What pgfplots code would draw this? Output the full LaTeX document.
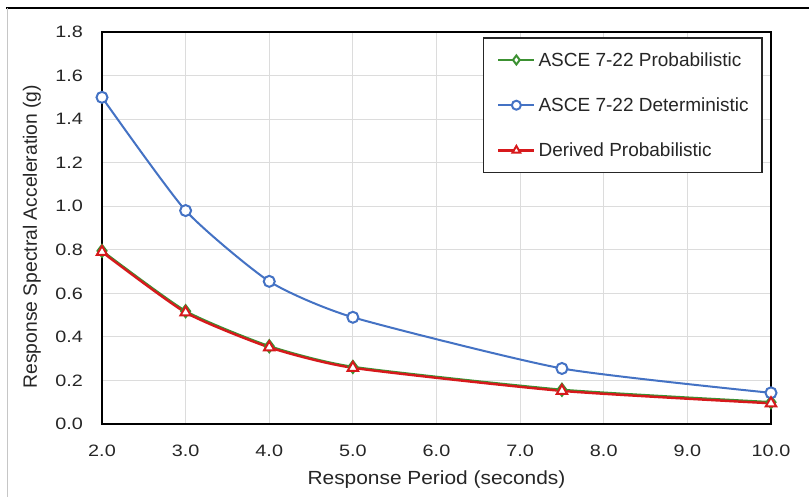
\documentclass[border=0pt]{standalone}
\usepackage{fontspec}
\setmainfont{Liberation Sans}
\newfontfamily\tickfont[FakeStretch=1.2]{Liberation Sans}
\newfontfamily\xlabfont[FakeStretch=1.1]{Liberation Sans}
\usepackage{pgfplots}
\pgfplotsset{compat=1.18}
\definecolor{cblue}{RGB}{68,114,196}
\definecolor{cred}{RGB}{215,25,28}
\definecolor{cgreen}{RGB}{60,145,50}
\definecolor{cgrid}{RGB}{220,220,220}
\begin{document}
\begin{tikzpicture}[x=1pt,y=1pt]
\useasboundingbox (0,0) rectangle (809,497);
\fill[white] (0,0) rectangle (809,497);
\draw[black, line width=2.7pt] (6,489) -- (809,489);
\draw[gray!45, line width=1pt] (7,489) -- (7,0);
\begin{axis}[
  at={(102pt,73pt)}, anchor=south west,
  scale only axis, width=669pt, height=392pt,
  xmin=2, xmax=10, ymin=0, ymax=1.8,
  xtick={2,3,4,5,6,7,8,9,10},
  ytick={0,0.2,0.4,0.6,0.8,1.0,1.2,1.4,1.6,1.8},
  grid=major,
  major grid style={cgrid, line width=1.2pt},
  axis line style={black, line width=1.8pt},
  major tick length=0pt,
  /pgf/number format/assume math mode=true,
  tick label style={font=\fontsize{16.5}{19}\tickfont, text=black!85,
    /pgf/number format/fixed, /pgf/number format/fixed zerofill,
    /pgf/number format/precision=1},
  xticklabel style={anchor=base, inner sep=0pt, yshift=-33pt},
  yticklabel style={anchor=east, inner sep=0pt, xshift=-19pt},
  xlabel={Response Period (seconds)},
  xlabel style={font=\fontsize{19}{22}\xlabfont, text=black!85,
    at={(axis description cs:0.5,-0.1556)}, anchor=base, inner sep=0pt},
  ylabel={Response Spectral Acceleration (g)},
  ylabel style={font=\fontsize{19.3}{22}\selectfont, text=black!85,
    at={(axis description cs:-0.0912,0.478)}, anchor=south, inner sep=0pt},
  legend cell align=left,
  legend image code/.code={
     \draw[mark repeat=2,mark phase=2,#1,sharp plot,mark size=4.5pt]
     plot coordinates {(0pt,0pt)(18pt,0pt)(36pt,0pt)};
     \path[draw=none,fill=none] (0pt,-7pt) rectangle (36pt,7pt);},
  legend style={at={(1,1)}, anchor=north east, xshift=-8pt, yshift=-5pt,
    draw=black!85, line width=1.6pt, inner xsep=13.5pt, inner ysep=14.5pt,
    font=\fontsize{19}{22}\selectfont, text=black!85,
    row sep=30pt, column sep=3pt, nodes={inner sep=0pt}},
]
\addplot[cgreen, line width=2.4pt, smooth, tension=0.35, mark=diamond*, mark size=6pt,
  mark options={fill=white, solid, line width=2pt}]
  coordinates {(2,0.795) (3,0.518) (4,0.357) (5,0.262) (7.5,0.157) (10,0.100)};
\addlegendentry{ASCE 7-22 Probabilistic}
\addplot[cblue, line width=2pt, smooth, tension=0.35, mark=*, mark size=5.5pt,
  mark options={fill=white, solid, line width=2pt}]
  coordinates {(2,1.50) (3,0.98) (4,0.655) (5,0.49) (7.5,0.255) (10,0.143)};
\addlegendentry{ASCE 7-22 Deterministic}
\addplot[cred, line width=2.4pt, smooth, tension=0.35, mark=triangle*, mark size=6pt,
  mark options={fill=white, solid, line width=2pt}]
  coordinates {(2,0.790) (3,0.512) (4,0.352) (5,0.258) (7.5,0.152) (10,0.095)};
\addlegendentry{Derived Probabilistic}
\end{axis}
\end{tikzpicture}
\end{document}
